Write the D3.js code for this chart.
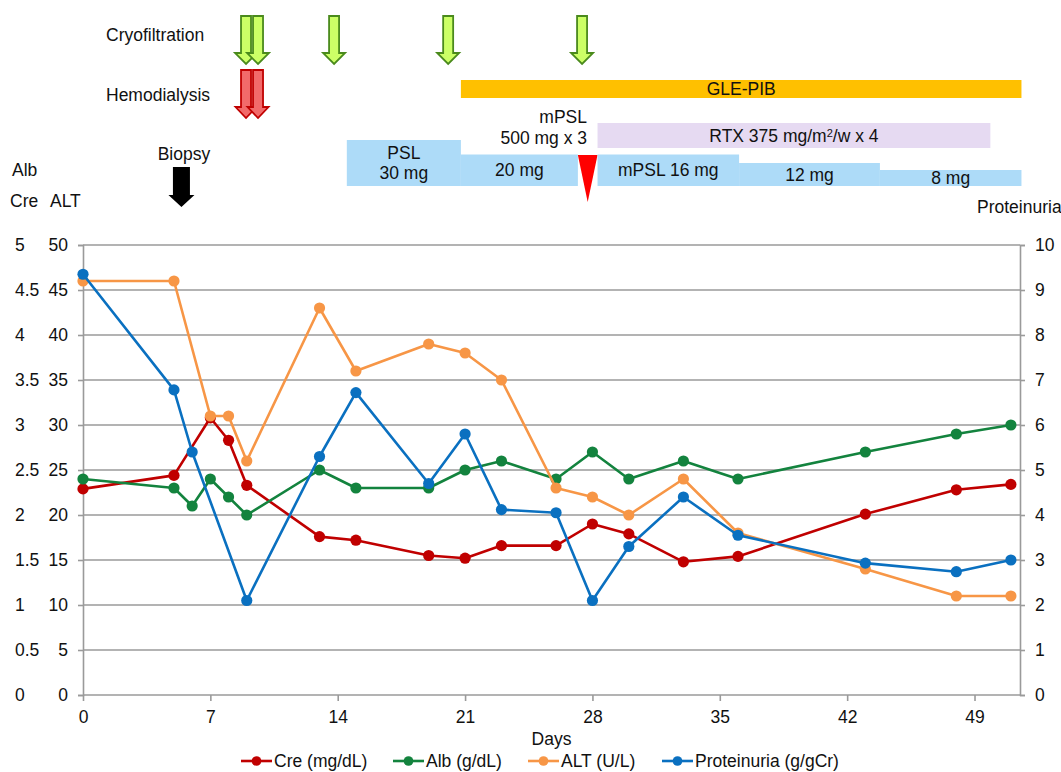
<!DOCTYPE html>
<html><head><meta charset="utf-8">
<script src="https://cdn.jsdelivr.net/npm/d3@7"></script>
<style>
body{margin:0;background:#fff}
svg{display:block}
text{font-family:"Liberation Sans",Arial,sans-serif;font-size:17.5px;fill:#111}
</style>
</head><body>
<svg id="c" width="1061" height="772"></svg>
<script>
// ---------- data ----------
const creDays  = [0,5,7,8,9,13,15,19,21,23,26,28,30,33,36,43,48,51];
const creVals  = [2.29,2.44,3.08,2.83,2.33,1.76,1.72,1.55,1.52,1.66,1.66,1.90,1.79,1.48,1.54,2.01,2.28,2.34];
const albDays  = [0,5,6,7,8,9,13,15,19,21,23,26,28,30,33,36,43,48,51];
const albVals  = [2.4,2.3,2.1,2.4,2.2,2.0,2.5,2.3,2.3,2.5,2.6,2.4,2.7,2.4,2.6,2.4,2.7,2.9,3.0];
const altDays  = [0,5,7,8,9,13,15,19,21,23,26,28,30,33,36,43,48,51];
const altVals  = [46,46,31,31,26,43,36,39,38,35,23,22,20,24,18,14,11,11];
const protDays = [0,5,6,9,13,15,19,21,23,26,28,30,33,36,43,48,51];
const protVals = [9.35,6.78,5.4,2.1,5.3,6.72,4.7,5.8,4.12,4.05,2.1,3.3,4.4,3.55,2.93,2.74,3.0];

const seriesNames = ["Cre (mg/dL)","Alb (g/dL)","ALT (U/L)","Proteinuria (g/gCr)"];
const dayTicks  = [0,7,14,21,28,35,42,49];
const creTicks  = [0,0.5,1,1.5,2,2.5,3,3.5,4,4.5,5];
const altTicks  = [0,5,10,15,20,25,30,35,40,45,50];
const protTicks = [0,1,2,3,4,5,6,7,8,9,10];

// treatment timeline (days)
const cryoDays = [8.96,9.62,13.8,20.07,27.43];
const hdDays   = [8.96,9.62];
const biopsyDay = 5.41;
const steroidLabels = [["PSL","30 mg"],["20 mg"],["mPSL 16 mg"],["12 mg"],["8 mg"]];
const steroidStart  = [14.5,20.77,28.28,36.06,43.8];
const steroidEnd    = [20.77,27.2,36.06,43.8,51.58];
const pulseSpan = [27.2,28.28];
const glePibSpan = [20.77,51.58];
const rtxSpan = [28.28,49.87];

// ---------- layout ----------
const svg = d3.select("#c");
const x = d3.scaleLinear().domain([0,51.5]).range([83,1020]);
const yCre = d3.scaleLinear().domain([0,5]).range([695,245]);
const yAlt = d3.scaleLinear().domain([0,50]).range([695,245]);
const yProt = d3.scaleLinear().domain([0,10]).range([695,245]);
const colors = ["#C00000","#13833E","#F79646","#0A70C0"];
const gridCol = "#9a9a9a";

// gridlines
svg.append("g").selectAll("line").data(altTicks).join("line")
  .attr("x1",x(0)).attr("x2",x(51.5))
  .attr("y1",d=>yAlt(d)).attr("y2",d=>yAlt(d))
  .attr("stroke",gridCol).attr("stroke-width",1.6);

// axes
const axL = svg.append("g").attr("transform",`translate(${x(0)},0)`)
  .call(d3.axisLeft(yAlt).tickValues(altTicks).tickSize(5).tickFormat(d3.format("d")));
axL.selectAll("text").attr("x",-15).style("font-size","17.5px").style("fill","#111");
const axR = svg.append("g").attr("transform",`translate(${x(51.5)},0)`)
  .call(d3.axisRight(yProt).tickValues(protTicks).tickSize(5).tickFormat(d3.format("d")));
axR.selectAll("text").attr("x",15).style("font-size","17.5px").style("fill","#111");
const axB = svg.append("g").attr("transform",`translate(0,${yCre(0)})`)
  .call(d3.axisBottom(x).tickValues(dayTicks).tickSize(6).tickFormat(d3.format("d")));
axB.selectAll("text").attr("y",16).style("font-size","17.5px").style("fill","#111");
[axL,axR,axB].forEach(a=>{
  a.selectAll("path.domain").attr("stroke",gridCol).attr("stroke-width",1.6);
  a.selectAll(".tick line").attr("stroke",gridCol).attr("stroke-width",1.6);
  a.attr("font-family",null).attr("font-size",null);
});
axB.select("path.domain").remove();
// outer Cre/Alb axis labels
svg.append("g").selectAll("text").data(creTicks).join("text")
  .attr("x",15).attr("y",d=>yCre(d)).attr("dy","0.35em")
  .text(d=>String(d));

// series
const data = [
  {days:creDays, vals:creVals, y:yCre},
  {days:albDays, vals:albVals, y:yCre},
  {days:altDays, vals:altVals, y:yAlt},
  {days:protDays, vals:protVals, y:yProt}
];
data.forEach((s,i)=>{
  const pts = s.days.map((d,j)=>[x(d), s.y(s.vals[j])]);
  const g = svg.append("g");
  g.append("path").attr("d", d3.line()(pts)).attr("fill","none")
    .attr("stroke",colors[i]).attr("stroke-width",2.6).attr("stroke-linejoin","round");
  g.selectAll("circle").data(pts).join("circle")
    .attr("cx",p=>p[0]).attr("cy",p=>p[1]).attr("r",5.6).attr("fill",colors[i]);
});

// axis titles
svg.append("text").attr("x",12).attr("y",170).attr("dy","0.35em").text("Alb");
svg.append("text").attr("x",10).attr("y",201).attr("dy","0.35em").text("Cre");
svg.append("text").attr("x",50).attr("y",201).attr("dy","0.35em").text("ALT");
svg.append("text").attr("x",977).attr("y",207).attr("dy","0.35em").text("Proteinuria");
svg.append("text").attr("x",(x(0)+x(51.5))/2).attr("y",739).attr("dy","0.35em")
  .attr("text-anchor","middle").text("Days");

// legend
const legX = [241,393,528,662];
seriesNames.forEach((n,i)=>{
  const g = svg.append("g").attr("transform",`translate(${legX[i]},761)`);
  g.append("line").attr("x1",0).attr("x2",31).attr("stroke",colors[i]).attr("stroke-width",2.6);
  g.append("circle").attr("cx",15.5).attr("r",4.8).attr("fill",colors[i]);
  g.append("text").attr("x",33).attr("dy","0.35em").text(n);
});

// ---------- top annotations ----------
function downArrow(cx, y0, y1, y2, sw, hw){
  return `M${cx-sw},${y0}H${cx+sw}V${y1}H${cx+hw}L${cx},${y2}L${cx-hw},${y1}H${cx-sw}Z`;
}
svg.append("text").attr("x",106).attr("y",41).text("Cryofiltration");
svg.append("text").attr("x",106).attr("y",101).text("Hemodialysis");
svg.append("g").selectAll("path").data(cryoDays).join("path")
  .attr("d",d=>downArrow(x(d),16,53,64,5,11))
  .attr("fill","#CCFF66").attr("stroke","#4A8A1C").attr("stroke-width",1.8).attr("stroke-linejoin","miter");
svg.append("g").selectAll("path").data(hdDays).join("path")
  .attr("d",d=>downArrow(x(d),70,107,118,5,10.5))
  .attr("fill","#F26A6A").attr("stroke","#C00000").attr("stroke-width",1.8);
svg.append("text").attr("x",x(biopsyDay)+2.5).attr("y",160).attr("text-anchor","middle").text("Biopsy");
svg.append("path").attr("d",downArrow(x(biopsyDay),167,195,207,8.5,13)).attr("fill","#000");

// GLE-PIB bar
svg.append("rect").attr("x",x(glePibSpan[0])).attr("y",80)
  .attr("width",x(glePibSpan[1])-x(glePibSpan[0])).attr("height",18).attr("fill","#FFC000");
svg.append("text").attr("x",(x(glePibSpan[0])+x(glePibSpan[1]))/2).attr("y",89).attr("dy","0.35em")
  .attr("text-anchor","middle").text("GLE-PIB");

// RTX
svg.append("rect").attr("x",x(rtxSpan[0])).attr("y",123)
  .attr("width",x(rtxSpan[1])-x(rtxSpan[0])).attr("height",25).attr("fill","#E6DAF2");
const rt = svg.append("text").attr("x",(x(rtxSpan[0])+x(rtxSpan[1]))/2).attr("y",135.5).attr("dy","0.35em")
  .attr("text-anchor","middle");
rt.append("tspan").text("RTX 375 mg/m");
rt.append("tspan").attr("dy","-0.45em").style("font-size","11px").text("2");
rt.append("tspan").attr("dy","0.3em").text("/w x 4");

// mPSL pulse
svg.append("text").attr("x",587).attr("y",117).attr("dy","0.35em").attr("text-anchor","end").text("mPSL");
svg.append("text").attr("x",587).attr("y",138).attr("dy","0.35em").attr("text-anchor","end").text("500 mg x 3");
const pc = (x(pulseSpan[0])+x(pulseSpan[1]))/2;
svg.append("path").attr("d",`M${x(pulseSpan[0])},155L${x(pulseSpan[1])},155L${pc},202Z`).attr("fill","#FF0000");

// steroid steps
const stepTop = [140,154.5,154.5,163,170];
const stepBottom = 186;
steroidLabels.forEach((lab,i)=>{
  const x0 = x(steroidStart[i]), x1 = x(steroidEnd[i]);
  svg.append("rect").attr("x",x0).attr("y",stepTop[i]).attr("width",x1-x0)
    .attr("height",stepBottom-stepTop[i]).attr("fill","#ADDBF8");
  const cy = (stepTop[i]+stepBottom)/2;
  lab.forEach((t,k)=>{
    svg.append("text").attr("x",(x0+x1)/2).attr("y",cy+(k-(lab.length-1)/2)*20).attr("dy","0.35em")
      .attr("text-anchor","middle").text(t);
  });
});
</script>
</body></html>
